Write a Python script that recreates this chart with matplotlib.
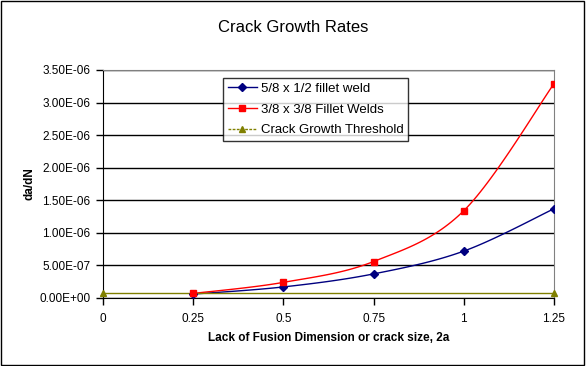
import numpy as np
import matplotlib
matplotlib.use("Agg")
import matplotlib.pyplot as plt
from matplotlib.ticker import FixedLocator, FuncFormatter

plt.rcParams['font.family'] = ['Liberation Sans', 'DejaVu Sans']

x_fillet58 = [0.25, 0.5, 0.75, 1.0, 1.25]
y_fillet58 = [6e-8, 1.7e-7, 3.7e-7, 7.2e-7, 1.37e-6]
x_fillet38 = [0.25, 0.5, 0.75, 1.0, 1.25]
y_fillet38 = [7e-8, 2.4e-7, 5.6e-7, 1.34e-6, 3.29e-6]
x_thresh = [0.0, 1.25]
y_thresh = [8e-8, 8e-8]
x_ticks = [0, 0.25, 0.5, 0.75, 1, 1.25]
x_ticklabels = ["0", "0.25", "0.5", "0.75", "1", "1.25"]
y_ticks = [0, 5e-7, 1e-6, 1.5e-6, 2e-6, 2.5e-6, 3e-6, 3.5e-6]


def smooth(xs, ys, n=30):
    # Excel-style smoothed line: cubic Bezier with Catmull-Rom control points
    xs = np.asarray(xs, float); ys = np.asarray(ys, float)
    px = np.concatenate([[xs[0]], xs, [xs[-1]]])
    py = np.concatenate([[ys[0]], ys, [ys[-1]]])
    ox, oy = [], []
    t = np.linspace(0, 1, n)
    for i in range(1, len(px) - 2):
        p0 = np.array([px[i], py[i]]); p3 = np.array([px[i + 1], py[i + 1]])
        c1 = p0 + (np.array([px[i + 1], py[i + 1]]) - np.array([px[i - 1], py[i - 1]])) / 6
        c2 = p3 - (np.array([px[i + 2], py[i + 2]]) - np.array([px[i], py[i]])) / 6
        b = ((1 - t) ** 3)[:, None] * p0 + (3 * (1 - t) ** 2 * t)[:, None] * c1 + \
            (3 * (1 - t) * t ** 2)[:, None] * c2 + (t ** 3)[:, None] * p3
        ox.extend(b[:, 0]); oy.extend(b[:, 1])
    return np.array(ox), np.array(oy)


fig = plt.figure(figsize=(5.86, 3.66), dpi=100)
fig.patch.set_facecolor('white')
# outer border
fig.patches.append(plt.Rectangle((0.002, 0.003), 0.995, 0.994, transform=fig.transFigure,
                                 fill=False, edgecolor='black', linewidth=1))

W, H = 586, 366
left, right, top, bottom = 103, 554, 70, 298
ax = fig.add_axes([left / W, 1 - bottom / H, (right - left) / W, (bottom - top) / H])

navy = '#000080'
red = '#FF0000'
olive = '#808000'

sx, sy = smooth(x_fillet58, y_fillet58)
ax.plot(sx, sy, color=navy, lw=1, zorder=3)
ax.plot(x_fillet58, y_fillet58, ls='none', marker='D', ms=4, color=navy, zorder=4)
sx, sy = smooth(x_fillet38, y_fillet38)
ax.plot(sx, sy, color=red, lw=1, zorder=3)
ax.plot(x_fillet38, y_fillet38, ls='none', marker='s', ms=5, color=red, zorder=4)
ax.plot(x_thresh, y_thresh, color=olive, lw=1, marker='^', ms=5, zorder=3, clip_on=False)

# legend proxies
h1, = ax.plot([], [], color=navy, lw=1, marker='D', ms=4, label='5/8 x 1/2 fillet weld')
h2, = ax.plot([], [], color=red, lw=1, marker='s', ms=5, label='3/8 x 3/8 Fillet Welds')
h3, = ax.plot([], [], color=olive, lw=1, ls=(0, (2, 1)), marker='^', ms=5, label='Crack Growth Threshold')

ax.set_xlim(0, 1.25)
ax.set_ylim(0, 3.5e-6)
ax.yaxis.set_major_locator(FixedLocator(y_ticks))
ax.yaxis.set_major_formatter(FuncFormatter(lambda v, p: f"{v:.2E}"))
ax.set_xticks(x_ticks)
ax.set_xticklabels(x_ticklabels)
ax.grid(axis='y', color='black', lw=1)
ax.set_axisbelow(True)
ax.tick_params(direction='out', length=5, width=1, labelsize=8.5, colors='black', pad=4)
ax.tick_params(axis='x', pad=6)
for s in ['top', 'right']:
    ax.spines[s].set_color('#808080')
for s in ['left', 'bottom']:
    ax.spines[s].set_color('black')
ax.set_xlabel('Lack of Fusion Dimension or crack size, 2a', fontsize=8.5, fontweight='bold', labelpad=5)
ax.set_ylabel('da/dN', fontsize=8.5, fontweight='bold', labelpad=3)
fig.text(0.5, 1 - 28 / H, 'Crack Growth Rates', ha='center', va='center', fontsize=12)

leg = ax.legend(handles=[h1, h2, h3], loc='upper left',
                bbox_to_anchor=((223 - left) / (right - left), 1 - (78 - top) / (bottom - top)),
                fontsize=9.5, frameon=True, fancybox=False, edgecolor='black', handlelength=2.2,
                borderpad=0.35, labelspacing=0.65, handletextpad=0.3, borderaxespad=0)
leg.get_frame().set_linewidth(1)

fig.savefig('out.png', dpi=100)
